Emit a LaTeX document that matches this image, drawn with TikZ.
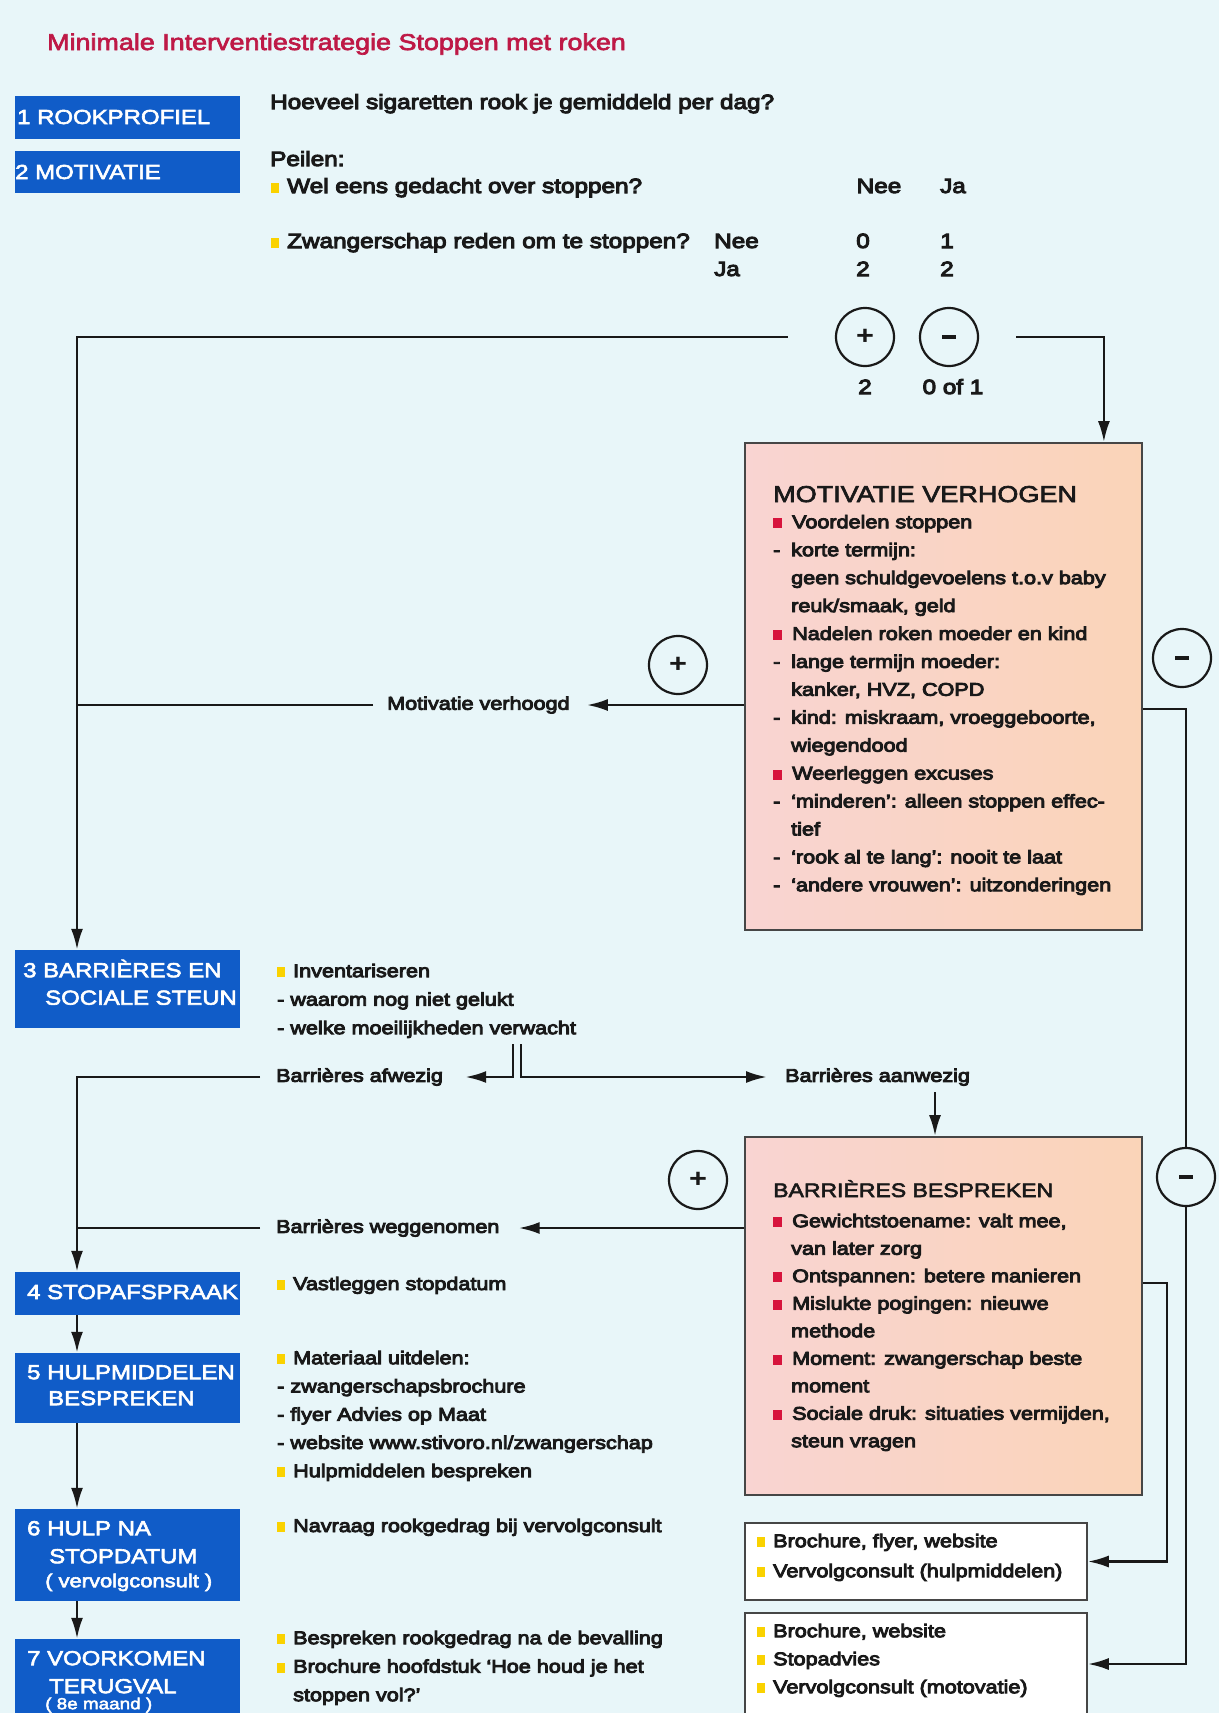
\documentclass[tikz,border=0pt]{standalone}
\usepackage{fontspec}
\setmainfont{Liberation Sans}[FakeStretch=1.18]
\newfontfamily\medfont{Liberation Sans}[FakeStretch=1.18,FakeBold=5]
\newfontfamily\labfont{Liberation Sans}[FakeStretch=1.18,FakeBold=3]
\usetikzlibrary{arrows.meta}
\definecolor{bgc}{RGB}{232,246,249}
\definecolor{boxblue}{RGB}{16,92,200}
\definecolor{crimson}{RGB}{190,25,70}
\definecolor{bulred}{RGB}{215,20,60}
\definecolor{bulyel}{RGB}{250,210,0}
\definecolor{pinkl}{RGB}{249,212,210}
\definecolor{peachr}{RGB}{250,212,184}
\definecolor{edgec}{RGB}{70,70,70}
\definecolor{ink}{RGB}{25,25,25}
\newcommand{\ybul}{\makebox[16pt][l]{\textcolor{bulyel}{\rule{8pt}{10pt}}}}
\newcommand{\rbul}{\makebox[19pt][l]{\textcolor{bulred}{\rule{9pt}{10pt}}}}
\newcommand{\dashit}{\makebox[18pt][l]{-}}
\newcommand{\indt}{\hspace*{18pt}}
\newcommand{\minbar}{\rule{14pt}{3.5pt}}
\newcommand{\bodyfont}{\medfont\fontsize{18.3}{28}\selectfont}
\newcommand{\upfont}{\medfont\fontsize{20.6}{28}\selectfont}

\begin{document}
\begin{tikzpicture}[
  x=1pt, y=-1pt,
  bbox/.style={fill=boxblue,minimum width=225pt,inner sep=0pt},
  blab/.style={text=white,inner sep=0pt,align=left,font=\labfont\fontsize{20.3}{28}\selectfont},
  pbox/.style={draw=edgec,line width=1.8pt,left color=pinkl,right color=peachr,minimum width=397pt,inner sep=0pt},
  wbox/.style={draw=edgec,line width=1.5pt,fill=white,minimum width=342pt,inner sep=0pt},
  txt/.style={inner sep=0pt,align=left,text=ink,font=\bodyfont},
  up/.style={inner sep=0pt,text=ink,font=\upfont},
  circ/.style={circle,draw=ink,line width=2.2pt,fill=bgc,minimum size=58pt,inner sep=0pt,text=ink,font=\fontsize{26}{26}\selectfont\bfseries},
  ln/.style={draw=ink,line width=2.6pt},
  arr/.style={ln,-{Latex[length=21pt,width=12pt]}}
]
\useasboundingbox (0,0) rectangle (1219,1713);
\fill[bgc] (0,0) rectangle (1219,1713);
\coordinate (sp) at (77,0);

\node[anchor=base west,inner sep=0pt,text=crimson,font=\labfont\fontsize{22.8}{28}\selectfont] (title) at (47,50) {Minimale Interventiestrategie Stoppen met roken};

\node[bbox,minimum height=43pt] (b1) at (127.5,117.5) {};
\node[bbox,minimum height=42pt] (b2) at (127.5,172) {};
\node[bbox,minimum height=78pt] (b3) at (127.5,989) {};
\node[bbox,minimum height=43pt] (b4) at (127.5,1293.5) {};
\node[bbox,minimum height=70pt] (b5) at (127.5,1388) {};
\node[bbox,minimum height=92pt] (b6) at (127.5,1555) {};
\node[bbox,minimum height=90pt] (b7) at (127.5,1684) {};
\node[blab,anchor=base west] (l1) at (17,124) {1 ROOKPROFIEL};
\node[blab,anchor=base west] (l2) at (15,179) {2 MOTIVATIE};
\node[blab,anchor=north west,font=\labfont\fontsize{20.3}{27.5}\selectfont] (l3) at (23,957.75) {\strut 3 BARRIÈRES EN\\ \hspace*{22pt}SOCIALE STEUN};
\node[blab,anchor=base west] (l4) at (27,1299) {4 STOPAFSPRAAK};
\node[blab,anchor=north west,font=\labfont\fontsize{20.3}{26}\selectfont] (l5) at (27,1360.8) {\strut 5 HULPMIDDELEN\\ \hspace*{21pt}BESPREKEN};
\node[blab,anchor=north west] (l6) at (27,1515.4) {\strut 6 HULP NA\\ \hspace*{22pt}STOPDATUM\\[-4pt] \hspace*{18pt}{\fontsize{18.6}{24}\selectfont ( vervolgconsult )}};
\node[blab,anchor=north west] (l7) at (27,1645.4) {\strut 7 VOORKOMEN\\ \hspace*{22pt}TERUGVAL\\[-12pt] \hspace*{18pt}{\fontsize{16}{20}\selectfont ( 8e maand )}};

\node[up,anchor=base west] (q1) at (270,109) {Hoeveel sigaretten rook je gemiddeld per dag?};
\node[up,anchor=base west] (peil) at (270,166) {Peilen:};
\node[up,anchor=base west] (q2) at (271,193) {\ybul Wel eens gedacht over stoppen?};
\node[up,anchor=base] (hnee) at (879,193) {Nee};
\node[up,anchor=base] (hja) at (953,193) {Ja};
\node[up,anchor=base west] (q3) at (271,248) {\ybul Zwangerschap reden om te stoppen?};
\node[up,anchor=base west] (rnee) at (714,248) {Nee};
\node[up,anchor=base west] (rja) at (714,276) {Ja};
\node[up,anchor=base] (s00) at (863,248) {0};
\node[up,anchor=base] (s01) at (947,248) {1};
\node[up,anchor=base] (s10) at (863,276) {2};
\node[up,anchor=base] (s11) at (947,276) {2};
\node[up,anchor=base] (splus) at (865,394) {2};
\node[up,anchor=base] (smin) at (953,394) {0 of 1};

\node[pbox,minimum height=487pt] (mv) at (943.5,686.5) {};
\node[anchor=base west,inner sep=0pt,text=ink,font=\labfont\fontsize{22.9}{28}\selectfont] (mvhead) at (773,502) {MOTIVATIE VERHOGEN};
\node[txt,anchor=north west,font=\medfont\fontsize{18.3}{27.92}\selectfont] (mvtext) at (773,508.5) {\strut\rbul Voordelen stoppen\\ \dashit korte termijn:\\ \indt geen schuldgevoelens t.o.v baby\\ \indt reuk/smaak, geld\\ \rbul Nadelen roken moeder en kind\\ \dashit lange termijn moeder:\\ \indt kanker, HVZ, COPD\\ \dashit kind: miskraam, vroeggeboorte,\\ \indt wiegendood\\ \rbul Weerleggen excuses\\ \dashit ‘minderen’: alleen stoppen effec-\\ \indt tief\\ \dashit ‘rook al te lang’: nooit te laat\\ \dashit ‘andere vrouwen’: uitzonderingen};

\node[pbox,minimum height=358pt] (bb) at (943.5,1316) {};
\node[anchor=base west,inner sep=0pt,text=ink,font=\labfont\fontsize{19.5}{28}\selectfont] (bbhead) at (773,1197) {BARRIÈRES BESPREKEN};
\node[txt,anchor=north west,font=\medfont\fontsize{18.3}{27.5}\selectfont] (bbtext) at (773,1207.75) {\strut\rbul Gewichtstoename: valt mee,\\ \indt van later zorg\\ \rbul Ontspannen: betere manieren\\ \rbul Mislukte pogingen: nieuwe\\ \indt methode\\ \rbul Moment: zwangerschap beste\\ \indt moment\\ \rbul Sociale druk: situaties vermijden,\\ \indt steun vragen};

\node[wbox,minimum height=77pt] (r6) at (916,1561.5) {};
\node[txt,anchor=north west,font=\medfont\fontsize{18.3}{30}\selectfont] (r6text) at (757,1526) {\strut\ybul Brochure, flyer, website\\ \ybul Vervolgconsult (hulpmiddelen)};
\node[wbox,minimum height=102pt] (r7) at (916,1664) {};
\node[txt,anchor=north west] (r7text) at (757,1617.4) {\strut\ybul Brochure, website\\ \ybul Stopadvies\\ \ybul Vervolgconsult (motovatie)};

\node[txt,anchor=north west,font=\medfont\fontsize{18.3}{28.5}\selectfont] (inv) at (277,957) {\strut\ybul Inventariseren\\ - waarom nog niet gelukt\\ - welke moeilijkheden verwacht};
\node[txt,anchor=base west] (stop) at (277,1290) {\ybul Vastleggen stopdatum};
\node[txt,anchor=north west,font=\medfont\fontsize{18.3}{28.25}\selectfont] (mat) at (277,1344.2) {\strut\ybul Materiaal uitdelen:\\ - zwangerschapsbrochure\\ - flyer Advies op Maat\\ - website www.stivoro.nl/zwangerschap\\ \ybul Hulpmiddelen bespreken};
\node[txt,anchor=base west] (navr) at (277,1532) {\ybul Navraag rookgedrag bij vervolgconsult};
\node[txt,anchor=north west,font=\medfont\fontsize{18.3}{28.5}\selectfont] (besp) at (277,1624) {\strut\ybul Bespreken rookgedrag na de bevalling\\ \ybul Brochure hoofdstuk ‘Hoe houd je het\\ \hspace*{16pt}stoppen vol?’};

\node[txt,anchor=west] (mvlab) at (387,705) {Motivatie verhoogd};
\node[txt,anchor=west] (afw) at (276,1077) {Barrières afwezig};
\node[txt,anchor=west] (aanw) at (785,1077) {Barrières aanwezig};
\node[txt,anchor=west] (wegg) at (276,1228) {Barrières weggenomen};

\node[circ] (pa) at (865,337) {+};
\node[circ] (ma) at (949,337) {\minbar};
\node[circ] (pb) at (678,665) {+};
\node[circ] (mb) at (1182,658) {\minbar};
\node[circ] (pc) at (698,1180) {+};
\node[circ] (mc) at (1186,1177) {\minbar};

\coordinate (fl) at (513,1044);
\coordinate (fr) at (521,1044);
\coordinate (aw) at (935,1092);
\coordinate (rl) at (1186,709);
\coordinate (rk) at (1167,1283);
\draw[arr] ([xshift=-47pt]pa.west) -| (sp |- b3.north);
\draw[arr] ([xshift=37pt]ma.east) -| ([xshift=-39pt]mv.north east);
\draw[arr,shorten >=17pt] (mv.west |- mvlab.east) -- (mvlab.east);
\draw[ln,shorten <=14pt] (mvlab.west) -- (sp |- mvlab.west);
\draw[arr,shorten >=22pt] (fl) |- (afw.east);
\draw[arr,shorten >=18pt] (fr) |- (aanw.west);
\draw[arr,shorten <=16pt] (afw.west) -| (sp |- b4.north);
\draw[arr] (aw) -- (aw |- bb.north);
\draw[arr,shorten >=19pt] (bb.west |- wegg.east) -- (wegg.east);
\draw[ln,shorten <=16pt] (wegg.west) -- (sp |- wegg.west);
\draw[arr] (sp |- b4.south) -- (sp |- b5.north);
\draw[arr] (sp |- b5.south) -- (sp |- b6.north);
\draw[arr] (sp |- b6.south) -- (sp |- b7.north);
\draw[ln] (mv.east |- rl) -- (rl) -- (mc.north);
\draw[arr] (mc.south) |- (r7.east);
\draw[arr] (bb.east |- rk) -- (rk) |- (r6.east);
\end{tikzpicture}
\end{document}
